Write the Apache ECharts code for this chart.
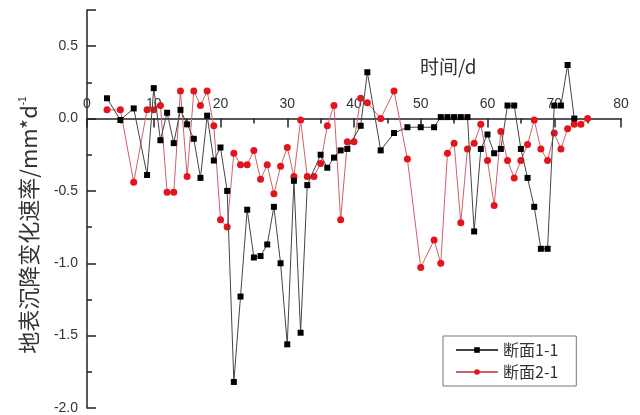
<!DOCTYPE html>
<html>
<head>
<meta charset="utf-8">
<script src="https://cdn.jsdelivr.net/npm/echarts@6/dist/echarts.min.js"></script>
<style>
  html, body { margin: 0; padding: 0; background: #fff; }
  #chart { width: 640px; height: 415px; }
</style>
</head>
<body>
<div id="chart"></div>
<script>
// 断面1-1
const days1 = [3, 5, 7, 9, 10, 11, 12, 13, 14, 15, 16, 17, 18, 19, 20, 21, 22, 23, 24, 25, 26, 27, 28, 29, 30, 31, 32, 33,
  35, 36, 37, 38, 39, 41, 42, 44, 46, 48, 50, 52, 53, 54, 55, 56, 57, 58, 59, 60, 61, 62, 63, 64, 65, 66, 67, 68, 69, 70, 71, 72, 73]
const rate1 = [0.14, -0.01, 0.07, -0.39, 0.21, -0.15, 0.04, -0.17, 0.06, -0.04, -0.14, -0.41, 0.02, -0.29, -0.2, -0.5,
  -1.82, -1.23, -0.63, -0.96, -0.95, -0.87, -0.61, -1.0, -1.56, -0.43, -1.48, -0.46,
  -0.25, -0.34, -0.27, -0.22, -0.21, -0.05, 0.32, -0.22, -0.1, -0.06, -0.06, -0.06,
  0.01, 0.01, 0.01, 0.01, 0.01, -0.78, -0.21, -0.11, -0.24, -0.21, 0.09, 0.09, -0.21, -0.41, -0.61, -0.9, -0.9, 0.09, 0.09, 0.37, 0.0]
// 断面2-1
const days2 = [3, 5, 7, 9, 10, 11, 12, 13, 14, 15, 16, 17, 18, 19, 20, 21, 22, 23, 24, 25, 26, 27, 28, 29, 30, 31, 32, 33, 34,
  35, 36, 37, 38, 39, 40, 41, 42, 44, 46, 48, 50, 52, 53, 54, 55, 56, 57, 58, 59, 60, 61, 62, 63, 64, 65, 66, 67, 68, 69, 70, 71, 72, 73, 74, 75]
const rate2 = [0.06, 0.06, -0.44, 0.06, 0.06, 0.09, -0.51, -0.51, 0.19, -0.4, 0.19, 0.09, 0.19, -0.05, -0.7, -0.75,
  -0.24, -0.32, -0.32, -0.22, -0.42, -0.32, -0.52, -0.33, -0.2, -0.4, -0.01, -0.4, -0.4,
  -0.31, -0.05, 0.09, -0.7, -0.16, -0.16, 0.14, 0.11, 0.0, 0.19, -0.28, -1.03, -0.84,
  -1.0, -0.24, -0.17, -0.72, -0.21, -0.17, -0.04, -0.29, -0.6, -0.09, -0.29, -0.41, -0.29, -0.18, -0.01, -0.21, -0.29, -0.1, -0.21, -0.07, -0.04, -0.04, 0.0]
const seriesNames = ['断面1-1', '断面2-1']
const yLabels = ['-2.0', '-1.5', '-1.0', '-0.5', '0.0', '0.5']

const pairs = (xs, ys) => xs.map((x, i) => [x, ys[i]])

const myChart = echarts.init(document.getElementById('chart'))
const textColor = '#333'
const axisColor = '#222'

const yMin = -2
const yMax = 0.75
const gridTop = 10
const gridBottom = 7
// distance from the top edge of the grid down to y = 0, the x axis is pushed there
const plotHeight = 415 - gridTop - gridBottom
const zeroOffset = (yMax / (yMax - yMin)) * plotHeight

const option = {
  animation: false,
  textStyle: { fontFamily: 'Arial, "Liberation Sans", "Noto Sans CJK SC", sans-serif' },
  grid: { left: 87, right: 19, top: gridTop, bottom: gridBottom },
  legend: {
    orient: 'vertical',
    left: 443,
    top: 336,
    padding: [6, 18, 6, 12],
    itemGap: 6,
    itemWidth: 42,
    itemHeight: 7,
    borderColor: '#777',
    borderWidth: 1,
    textStyle: { fontSize: 16, color: textColor, fontFamily: '"Noto Sans CJK SC", sans-serif' },
    data: seriesNames
  },
  graphic: [
    {
      type: 'text',
      left: 420,
      top: 57,
      style: { text: '时间/d', fontSize: 19, fill: textColor, fontFamily: '"Noto Sans CJK SC", sans-serif' }
    },
    {
      type: 'text',
      x: 29,
      y: 225,
      rotation: Math.PI / 2,
      style: {
        text: '{a|地表沉降变化速率/mm*d}{b|-1}',
        align: 'center',
        verticalAlign: 'middle',
        rich: {
          a: { fontSize: 22, fill: textColor, fontFamily: '"Noto Sans CJK SC", sans-serif' },
          b: { fontSize: 10, fill: textColor, verticalAlign: 'top', padding: [0, 0, 12, 0] }
        }
      }
    }
  ],
  xAxis: {
    type: 'value',
    min: 0,
    max: 80,
    interval: 10,
    position: 'top',
    offset: -zeroOffset,
    axisLine: { show: true, onZero: false, lineStyle: { color: axisColor, width: 1.5 } },
    axisTick: { show: true, inside: true, length: 9, lineStyle: { color: axisColor, width: 1.5 } },
    minorTick: { show: true, splitNumber: 2, length: 5, lineStyle: { color: axisColor, width: 1.5 } },
    axisLabel: { fontSize: 14, color: textColor, margin: 7 },
    splitLine: { show: false }
  },
  yAxis: {
    type: 'value',
    min: yMin,
    max: yMax,
    interval: 0.5,
    axisLine: { show: true, onZero: false, lineStyle: { color: axisColor, width: 1.5 } },
    axisTick: { show: true, inside: true, length: 9, lineStyle: { color: axisColor, width: 1.5 } },
    minorTick: { show: true, splitNumber: 2, length: 5, lineStyle: { color: axisColor, width: 1.5 } },
    axisLabel: {
      fontSize: 14,
      color: textColor,
      margin: 9,
      showMaxLabel: false,
      formatter: (v) => {
        const s = v.toFixed(1)
        return yLabels.indexOf(s) >= 0 ? s : ''
      }
    },
    splitLine: { show: false }
  },
  series: [
    {
      name: seriesNames[0],
      type: 'line',
      data: pairs(days1, rate1),
      symbol: 'rect',
      symbolSize: 6,
      itemStyle: { color: '#000' },
      lineStyle: { color: '#444', width: 1 },
      z: 3
    },
    {
      name: seriesNames[1],
      type: 'line',
      data: pairs(days2, rate2),
      symbol: 'circle',
      symbolSize: 7,
      itemStyle: { color: '#e3141c' },
      lineStyle: { color: '#d0606a', width: 1 },
      z: 2
    }
  ]
}

myChart.setOption(option)
</script>
</body>
</html>
